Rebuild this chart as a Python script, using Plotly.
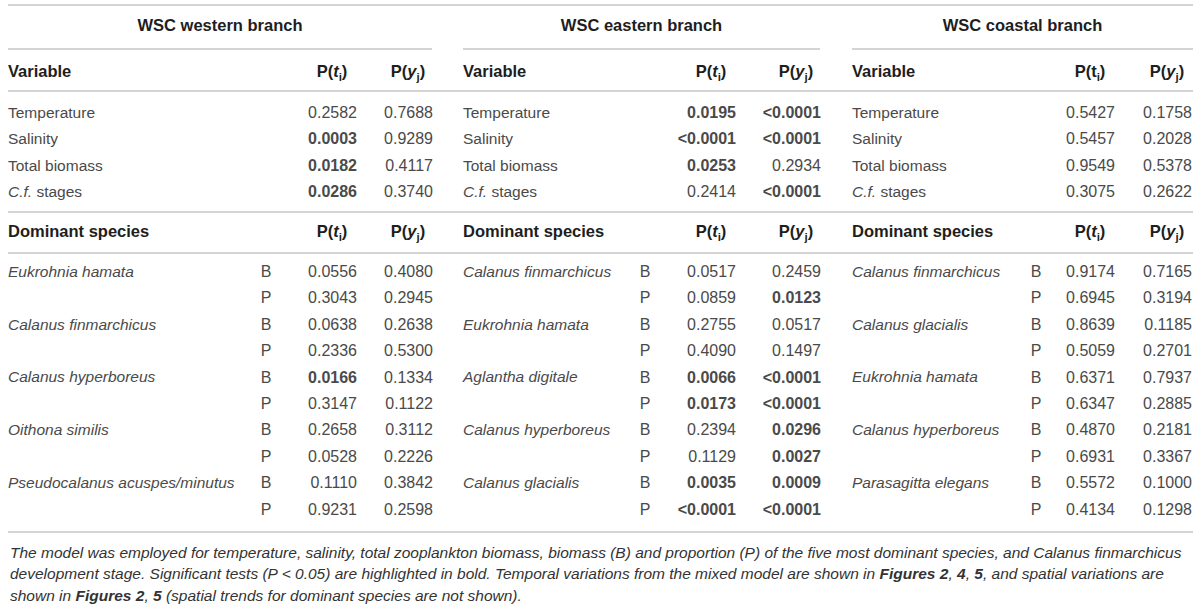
import plotly.graph_objects as go

# table content
branches = ["WSC western branch", "WSC eastern branch", "WSC coastal branch"]
variables = ["Temperature", "Salinity", "Total biomass", "<i>C.f.</i> stages"]

west_var_t = ["0.2582", "0.0003", "0.0182", "0.0286"]
west_var_y = ["0.7688", "0.9289", "0.4117", "0.3740"]
east_var_t = ["0.0195", "<0.0001", "0.0253", "0.2414"]
east_var_y = ["<0.0001", "<0.0001", "0.2934", "<0.0001"]
coast_var_t = ["0.5427", "0.5457", "0.9549", "0.3075"]
coast_var_y = ["0.1758", "0.2028", "0.5378", "0.2622"]

west_species = ["Eukrohnia hamata", "Calanus finmarchicus", "Calanus hyperboreus",
                "Oithona similis", "Pseudocalanus acuspes/minutus"]
west_sp_t = ["0.0556", "0.3043", "0.0638", "0.2336", "0.0166",
             "0.3147", "0.2658", "0.0528", "0.1110", "0.9231"]
west_sp_y = ["0.4080", "0.2945", "0.2638", "0.5300", "0.1334",
             "0.1122", "0.3112", "0.2226", "0.3842", "0.2598"]

east_species = ["Calanus finmarchicus", "Eukrohnia hamata", "Aglantha digitale",
                "Calanus hyperboreus", "Calanus glacialis"]
east_sp_t = ["0.0517", "0.0859", "0.2755", "0.4090", "0.0066",
             "0.0173", "0.2394", "0.1129", "0.0035", "<0.0001"]
east_sp_y = ["0.2459", "0.0123", "0.0517", "0.1497", "<0.0001",
             "<0.0001", "0.0296", "0.0027", "0.0009", "<0.0001"]

coast_species = ["Calanus finmarchicus", "Calanus glacialis", "Eukrohnia hamata",
                 "Calanus hyperboreus", "Parasagitta elegans"]
coast_sp_t = ["0.9174", "0.6945", "0.8639", "0.5059", "0.6371",
              "0.6347", "0.4870", "0.6931", "0.5572", "0.4134"]
coast_sp_y = ["0.7165", "0.3194", "0.1185", "0.2701", "0.7937",
              "0.2885", "0.2181", "0.3367", "0.1000", "0.1298"]

stat_kind = ["B", "P"]

caption = [
    "The model was employed for temperature, salinity, total zooplankton biomass, biomass (B) and proportion (P) "
    "of the five most dominant species, and Calanus finmarchicus",
    "development stage. Significant tests (P &lt; 0.05) are highlighted in bold. Temporal variations from the mixed "
    "model are shown in <b>Figures 2</b>, <b>4</b>, <b>5</b>, and spatial variations are",
    "shown in <b>Figures 2</b>, <b>5</b> (spatial trends for dominant species are not shown).",
]

FONT = "Liberation Sans, Arial, sans-serif"
TXT = "#4a4a4a"
DARK = "#1e1e1e"
RULE = "#d4d4d4"
FS = 15.5      # names
FS_NUM = 16    # numbers
FS_HEAD = 16.5

# layout of the three blocks: left edge, B/P centre, right edges of value columns, rule extent
blocks = [
    dict(x0=8, bp=266, rt=357, ry=433, r0=8, r1=432),
    dict(x0=463, bp=645, rt=736, ry=821, r0=463, r1=820),
    dict(x0=852, bp=1036, rt=1115, ry=1192, r0=852, r1=1193),
]
col_w = 50
y_title, y_rule_sub, y_head, y_rule_head = 27, 49, 73, 91
y_var0, row_h = 114, 26.4
y_rule_mid, y_head2, y_rule_head2 = 212, 233, 253
y_sp0, row_h2 = 273, 26.4
y_rule_bot = 532
y_cap0, cap_h = 552, 21.5


def fmt(v):
    bold = float(v.lstrip("<")) < 0.05
    v = v.replace("<", "&lt;")
    return f"<b>{v}</b>" if bold else v


fig = go.Figure()


def add_text(xs, ys, texts, pos, color=TXT, size=FS):
    fig.add_trace(go.Scatter(x=xs, y=ys, text=texts, mode="text", textposition=pos,
                             textfont=dict(family=FONT, size=size, color=color),
                             hoverinfo="skip", showlegend=False))


var_t = [west_var_t, east_var_t, coast_var_t]
var_y = [west_var_y, east_var_y, coast_var_y]
species = [west_species, east_species, coast_species]
sp_t = [west_sp_t, east_sp_t, coast_sp_t]
sp_y = [west_sp_y, east_sp_y, coast_sp_y]

for k, b in enumerate(blocks):
    ct = b["rt"] - col_w / 2
    cy = b["ry"] - col_w / 2
    head_t = "P(t<sub>i</sub>)" if k == 2 else "P(<i>t</i><sub>i</sub>)"
    head_y = "P(<i>y</i><sub>j</sub>)"

    # branch title
    add_text([(b["r0"] + b["r1"]) / 2], [y_title], [f"<b>{branches[k]}</b>"], "middle center", DARK, FS_HEAD)

    # variable header
    add_text([b["x0"]], [y_head], ["<b>Variable</b>"], "middle right", DARK, FS_HEAD)
    add_text([ct], [y_head], [f"<b>{head_t}</b>"], "middle center", DARK, FS_HEAD)
    add_text([cy], [y_head], [f"<b>{head_y}</b>"], "middle center", DARK, FS_HEAD)

    vy = [y_var0 + i * row_h for i in range(len(variables))]
    add_text([b["x0"]] * len(variables), vy, variables, "middle right")
    add_text([b["rt"]] * len(vy), vy, [fmt(v) for v in var_t[k]], "middle left", size=FS_NUM)
    add_text([b["ry"]] * len(vy), vy, [fmt(v) for v in var_y[k]], "middle left", size=FS_NUM)

    # species header
    add_text([b["x0"]], [y_head2], ["<b>Dominant species</b>"], "middle right", DARK, FS_HEAD)
    add_text([ct], [y_head2], ["<b>P(<i>t</i><sub>i</sub>)</b>"], "middle center", DARK, FS_HEAD)
    add_text([cy], [y_head2], [f"<b>{head_y}</b>"], "middle center", DARK, FS_HEAD)

    sy = [y_sp0 + i * row_h2 for i in range(len(sp_t[k]))]
    add_text([b["x0"]] * len(species[k]), sy[::2], [f"<i>{s}</i>" for s in species[k]], "middle right")
    add_text([b["bp"]] * len(sy), sy, stat_kind * len(species[k]), "middle center", size=FS_NUM)
    add_text([b["rt"]] * len(sy), sy, [fmt(v) for v in sp_t[k]], "middle left", size=FS_NUM)
    add_text([b["ry"]] * len(sy), sy, [fmt(v) for v in sp_y[k]], "middle left", size=FS_NUM)

    fig.add_shape(type="line", x0=b["r0"], x1=b["r1"], y0=y_rule_sub, y1=y_rule_sub,
                  line=dict(color=RULE, width=2))

for yr in [5, y_rule_head, y_rule_mid, y_rule_head2, y_rule_bot]:
    fig.add_shape(type="line", x0=8, x1=1193, y0=yr, y1=yr, line=dict(color=RULE, width=2))

for i, line in enumerate(caption):
    fig.add_annotation(x=8, y=y_cap0 + i * cap_h, text=f"<i>{line}</i>", showarrow=False,
                       xanchor="left", yanchor="middle", align="left",
                       font=dict(family=FONT, size=15.5, color="#333333"))

fig.update_layout(
    width=1200, height=605,
    margin=dict(l=0, r=0, t=0, b=0),
    paper_bgcolor="white", plot_bgcolor="white",
    xaxis=dict(range=[0, 1200], visible=False, fixedrange=True),
    yaxis=dict(range=[605, 0], visible=False, fixedrange=True),
)

# drop the default page margin so the figure sits at the window's top-left corner
fig.write_html("out.html", config={"displayModeBar": False},
               post_script="document.body.style.margin='0';")
